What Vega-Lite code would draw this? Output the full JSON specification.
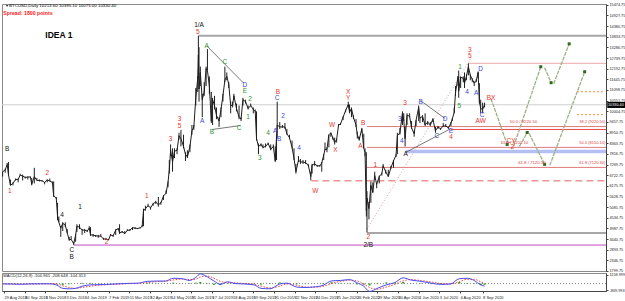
{
  "$schema": "https://vega.github.io/schema/vega-lite/v6.json",
  "background": "white",
  "padding": {"left": 0, "top": 2, "right": 0, "bottom": 0},
  "spacing": 2,
  "bounds": "flush",
  "config": {
    "view": {"stroke": "#8a8a8a", "strokeWidth": 1},
    "font": "Liberation Sans",
    "axis": {"labelFont": "Liberation Sans", "labelFontSize": 3.8, "labelColor": "#222", "tickColor": "#444", "domainColor": "#444", "grid": false, "tickSize": 2, "title": null, "labelPadding": 1}
  },
  "datasets": {
    "px": [
      {"d":"2018-08-27","h":6900,"l":6650,"c":6890},{"d":"2018-08-31","h":7050,"l":6850,"c":7000},{"d":"2018-09-03","h":7350,"l":7200,"c":7270},{"d":"2018-09-05","h":7400,"l":6700,"c":6750},{"d":"2018-09-08","h":6500,"l":6200,"c":6200},{"d":"2018-09-12","h":6350,"l":6200,"c":6300},{"d":"2018-09-16","h":6550,"l":6450,"c":6500},{"d":"2018-09-20","h":6550,"l":6350,"c":6500},{"d":"2018-09-23","h":6800,"l":6700,"c":6720},{"d":"2018-09-27","h":6750,"l":6450,"c":6680},
      {"d":"2018-10-01","h":6650,"l":6550,"c":6600},{"d":"2018-10-05","h":6650,"l":6500,"c":6630},{"d":"2018-10-09","h":6650,"l":6570,"c":6630},{"d":"2018-10-11","h":6580,"l":6200,"c":6250},{"d":"2018-10-15","h":7100,"l":6300,"c":6650},{"d":"2018-10-19","h":6580,"l":6450,"c":6450},{"d":"2018-10-23","h":6500,"l":6400,"c":6450},{"d":"2018-10-27","h":6470,"l":6400,"c":6430},{"d":"2018-10-31","h":6370,"l":6250,"c":6350},
      {"d":"2018-11-04","h":6500,"l":6350,"c":6480},{"d":"2018-11-08","h":6550,"l":6400,"c":6420},{"d":"2018-11-12","h":6400,"l":6300,"c":6350},{"d":"2018-11-14","h":6400,"l":5600,"c":5650},{"d":"2018-11-18","h":5600,"l":5500,"c":5550},{"d":"2018-11-20","h":5300,"l":4400,"c":4600},{"d":"2018-11-22","h":4600,"l":4300,"c":4300},{"d":"2018-11-25","h":4100,"l":3550,"c":4000},{"d":"2018-11-28","h":4300,"l":3850,"c":4250},
      {"d":"2018-12-02","h":4300,"l":4050,"c":4150},{"d":"2018-12-05","h":3950,"l":3750,"c":3750},{"d":"2018-12-08","h":3550,"l":3350,"c":3400},{"d":"2018-12-11","h":3600,"l":3400,"c":3420},{"d":"2018-12-15","h":3300,"l":3130,"c":3200},{"d":"2018-12-18","h":3700,"l":3300,"c":3650},{"d":"2018-12-20","h":4200,"l":3800,"c":4100},{"d":"2018-12-24","h":4200,"l":3950,"c":4050},{"d":"2018-12-28","h":3950,"l":3650,"c":3900},
      {"d":"2019-01-01","h":3950,"l":3750,"c":3900},{"d":"2019-01-05","h":3900,"l":3800,"c":3850},{"d":"2019-01-08","h":4100,"l":3950,"c":4000},{"d":"2019-01-10","h":4050,"l":3600,"c":3650},{"d":"2019-01-14","h":3700,"l":3550,"c":3650},{"d":"2019-01-18","h":3650,"l":3550,"c":3600},{"d":"2019-01-22","h":3650,"l":3500,"c":3600},{"d":"2019-01-26","h":3700,"l":3550,"c":3580},{"d":"2019-01-30","h":3500,"l":3400,"c":3450},
      {"d":"2019-02-03","h":3500,"l":3400,"c":3430},{"d":"2019-02-07","h":3450,"l":3380,"c":3400},{"d":"2019-02-10","h":3700,"l":3600,"c":3650},{"d":"2019-02-14","h":3650,"l":3550,"c":3600},{"d":"2019-02-18","h":3950,"l":3650,"c":3900},{"d":"2019-02-22","h":4000,"l":3900,"c":3980},{"d":"2019-02-24","h":4200,"l":3700,"c":3750},{"d":"2019-02-28","h":3850,"l":3750,"c":3820},
      {"d":"2019-03-04","h":3850,"l":3700,"c":3720},{"d":"2019-03-08","h":3950,"l":3850,"c":3880},{"d":"2019-03-12","h":3950,"l":3850,"c":3900},{"d":"2019-03-16","h":4050,"l":3900,"c":4020},{"d":"2019-03-20","h":4050,"l":3950,"c":4000},{"d":"2019-03-24","h":4000,"l":3950,"c":3980},{"d":"2019-03-28","h":4050,"l":3980,"c":4020},{"d":"2019-03-31","h":4150,"l":4050,"c":4100},
      {"d":"2019-04-02","h":5000,"l":4100,"c":4880},{"d":"2019-04-05","h":5150,"l":4900,"c":5000},{"d":"2019-04-09","h":5250,"l":5100,"c":5150},{"d":"2019-04-13","h":5100,"l":4950,"c":5050},{"d":"2019-04-17","h":5300,"l":5150,"c":5250},{"d":"2019-04-21","h":5400,"l":5250,"c":5350},{"d":"2019-04-25","h":5600,"l":5100,"c":5200},{"d":"2019-04-29","h":5350,"l":5200,"c":5300},
      {"d":"2019-05-03","h":5700,"l":5450,"c":5650},{"d":"2019-05-07","h":5950,"l":5750,"c":5800},{"d":"2019-05-10","h":6400,"l":6100,"c":6350},{"d":"2019-05-12","h":7500,"l":6800,"c":7000},{"d":"2019-05-14","h":8300,"l":7700,"c":8000},{"d":"2019-05-17","h":8100,"l":6900,"c":7400},{"d":"2019-05-20","h":8100,"l":7600,"c":7950},{"d":"2019-05-24","h":8100,"l":7800,"c":8000},{"d":"2019-05-27","h":8900,"l":8550,"c":8750},{"d":"2019-05-30","h":9050,"l":8200,"c":8600},
      {"d":"2019-06-03","h":8800,"l":8100,"c":8200},{"d":"2019-06-06","h":7900,"l":7450,"c":7800},{"d":"2019-06-09","h":8000,"l":7600,"c":7650},{"d":"2019-06-13","h":8300,"l":7900,"c":8200},{"d":"2019-06-16","h":9300,"l":8800,"c":9000},{"d":"2019-06-19","h":9300,"l":9050,"c":9200},{"d":"2019-06-22","h":11200,"l":10300,"c":10700},{"d":"2019-06-25","h":11800,"l":11000,"c":11700},{"d":"2019-06-26","h":13880,"l":11700,"c":12900},{"d":"2019-06-27","h":13300,"l":10500,"c":11150},{"d":"2019-06-29","h":12300,"l":11300,"c":12000},
      {"d":"2019-07-02","h":10900,"l":9700,"c":10600},{"d":"2019-07-05","h":11500,"l":10800,"c":11000},{"d":"2019-07-08","h":12300,"l":11300,"c":12200},{"d":"2019-07-10","h":13200,"l":12100,"c":12100},{"d":"2019-07-13","h":11800,"l":10900,"c":11300},{"d":"2019-07-16","h":11000,"l":9400,"c":9500},{"d":"2019-07-18","h":10700,"l":9300,"c":10600},{"d":"2019-07-21","h":10800,"l":10100,"c":10300},{"d":"2019-07-24","h":10200,"l":9600,"c":9800},{"d":"2019-07-28","h":9700,"l":9200,"c":9500},{"d":"2019-07-31","h":10200,"l":9700,"c":10100},
      {"d":"2019-08-03","h":10900,"l":10500,"c":10800},{"d":"2019-08-06","h":12300,"l":11500,"c":11600},{"d":"2019-08-09","h":12000,"l":11600,"c":11800},{"d":"2019-08-12","h":11500,"l":11200,"c":11400},{"d":"2019-08-15","h":10500,"l":9900,"c":10300},{"d":"2019-08-18","h":10500,"l":10200,"c":10300},{"d":"2019-08-20","h":10900,"l":10700,"c":10800},{"d":"2019-08-24","h":10400,"l":10000,"c":10150},{"d":"2019-08-28","h":10300,"l":9600,"c":9700},{"d":"2019-08-31","h":9700,"l":9500,"c":9600},
      {"d":"2019-09-03","h":10700,"l":10300,"c":10600},{"d":"2019-09-07","h":10600,"l":10400,"c":10500},{"d":"2019-09-11","h":10300,"l":10100,"c":10150},{"d":"2019-09-15","h":10400,"l":10250,"c":10300},{"d":"2019-09-19","h":10200,"l":9900,"c":10100},{"d":"2019-09-22","h":10100,"l":9950,"c":10000},{"d":"2019-09-24","h":10000,"l":8500,"c":8600},{"d":"2019-09-27","h":8350,"l":7800,"c":8200},
      {"d":"2019-10-01","h":8350,"l":8200,"c":8300},{"d":"2019-10-04","h":8300,"l":8100,"c":8150},{"d":"2019-10-08","h":8350,"l":8150,"c":8200},{"d":"2019-10-12","h":8400,"l":8300,"c":8350},{"d":"2019-10-16","h":8300,"l":8000,"c":8050},{"d":"2019-10-20","h":8300,"l":8150,"c":8200},{"d":"2019-10-23","h":8200,"l":7400,"c":7450},{"d":"2019-10-25","h":8800,"l":7500,"c":8700},{"d":"2019-10-26","h":10500,"l":8600,"c":9300},{"d":"2019-10-30","h":9450,"l":9100,"c":9200},
      {"d":"2019-11-03","h":9300,"l":9150,"c":9200},{"d":"2019-11-07","h":9400,"l":9100,"c":9200},{"d":"2019-11-10","h":9100,"l":8800,"c":8850},{"d":"2019-11-14","h":8800,"l":8600,"c":8650},{"d":"2019-11-18","h":8500,"l":8100,"c":8150},{"d":"2019-11-21","h":8100,"l":7500,"c":7600},{"d":"2019-11-24","h":7300,"l":6800,"c":6900},{"d":"2019-11-28","h":7700,"l":7400,"c":7500},
      {"d":"2019-12-01","h":7550,"l":7300,"c":7400},{"d":"2019-12-05","h":7500,"l":7300,"c":7400},{"d":"2019-12-09","h":7500,"l":7300,"c":7350},{"d":"2019-12-13","h":7300,"l":7200,"c":7250},{"d":"2019-12-17","h":6900,"l":6450,"c":6650},{"d":"2019-12-19","h":7300,"l":6800,"c":7250},{"d":"2019-12-23","h":7450,"l":7200,"c":7300},{"d":"2019-12-27","h":7250,"l":7150,"c":7200},{"d":"2019-12-31","h":7250,"l":7150,"c":7200},
      {"d":"2020-01-03","h":7400,"l":6900,"c":7350},{"d":"2020-01-06","h":7800,"l":7500,"c":7750},{"d":"2020-01-08","h":8400,"l":8000,"c":8050},{"d":"2020-01-11","h":8150,"l":7900,"c":8050},{"d":"2020-01-14","h":8800,"l":8150,"c":8800},{"d":"2020-01-17","h":8900,"l":8700,"c":8900},{"d":"2020-01-20","h":8700,"l":8550,"c":8650},{"d":"2020-01-23","h":8650,"l":8300,"c":8400},{"d":"2020-01-26","h":8600,"l":8400,"c":8550},{"d":"2020-01-29","h":9350,"l":9250,"c":9300},
      {"d":"2020-02-01","h":9400,"l":9300,"c":9350},{"d":"2020-02-05","h":9750,"l":9550,"c":9700},{"d":"2020-02-09","h":10100,"l":9950,"c":10050},{"d":"2020-02-13","h":10500,"l":10200,"c":10350},{"d":"2020-02-15","h":10350,"l":9900,"c":9950},{"d":"2020-02-18","h":10200,"l":9700,"c":10150},{"d":"2020-02-21","h":9800,"l":9600,"c":9700},{"d":"2020-02-25","h":9600,"l":9200,"c":9300},{"d":"2020-02-27","h":8950,"l":8600,"c":8800},
      {"d":"2020-03-01","h":8700,"l":8500,"c":8550},{"d":"2020-03-05","h":9150,"l":8900,"c":9100},{"d":"2020-03-08","h":8850,"l":8100,"c":8100},{"d":"2020-03-10","h":8100,"l":7700,"c":7900},{"d":"2020-03-12","h":7900,"l":4600,"c":4900},{"d":"2020-03-13","h":5900,"l":3780,"c":5550},{"d":"2020-03-16","h":5350,"l":4450,"c":5000},{"d":"2020-03-19","h":6400,"l":5300,"c":6200},{"d":"2020-03-22","h":6350,"l":5800,"c":5850},{"d":"2020-03-25","h":6900,"l":6500,"c":6700},{"d":"2020-03-28","h":6300,"l":6050,"c":6250},
      {"d":"2020-04-01","h":6700,"l":6300,"c":6650},{"d":"2020-04-05","h":6850,"l":6700,"c":6800},{"d":"2020-04-07","h":7300,"l":7100,"c":7200},{"d":"2020-04-11","h":7000,"l":6800,"c":6900},{"d":"2020-04-15","h":7000,"l":6650,"c":6650},{"d":"2020-04-19","h":7200,"l":7050,"c":7100},{"d":"2020-04-23","h":7500,"l":7100,"c":7450},{"d":"2020-04-27","h":7800,"l":7650,"c":7750},{"d":"2020-04-29","h":8900,"l":7800,"c":8750},
      {"d":"2020-05-03","h":9150,"l":8800,"c":8900},{"d":"2020-05-07","h":10000,"l":9300,"c":9950},{"d":"2020-05-09","h":9900,"l":9500,"c":9550},{"d":"2020-05-11","h":9200,"l":8200,"c":8600},{"d":"2020-05-14","h":9900,"l":9300,"c":9800},{"d":"2020-05-18","h":9900,"l":9700,"c":9750},{"d":"2020-05-21","h":9500,"l":9100,"c":9150},{"d":"2020-05-25","h":9000,"l":8700,"c":8850},{"d":"2020-05-28","h":9550,"l":9250,"c":9550},
      {"d":"2020-06-01","h":10300,"l":9500,"c":10200},{"d":"2020-06-03","h":9700,"l":9400,"c":9650},{"d":"2020-06-07","h":9800,"l":9450,"c":9750},{"d":"2020-06-11","h":9900,"l":9250,"c":9300},{"d":"2020-06-15","h":9500,"l":9300,"c":9450},{"d":"2020-06-19","h":9450,"l":9250,"c":9300},{"d":"2020-06-23","h":9650,"l":9450,"c":9600},{"d":"2020-06-27","h":9200,"l":8900,"c":9000},
      {"d":"2020-07-01","h":9250,"l":9100,"c":9200},{"d":"2020-07-05","h":9150,"l":9050,"c":9100},{"d":"2020-07-09","h":9400,"l":9200,"c":9250},{"d":"2020-07-13","h":9350,"l":9200,"c":9250},{"d":"2020-07-17","h":9200,"l":9100,"c":9150},{"d":"2020-07-21","h":9450,"l":9250,"c":9400},{"d":"2020-07-23","h":9650,"l":9500,"c":9600},{"d":"2020-07-26","h":10200,"l":9900,"c":9950},{"d":"2020-07-28","h":11300,"l":10800,"c":10950},
      {"d":"2020-08-01","h":11800,"l":11300,"c":11800},{"d":"2020-08-02","h":12100,"l":10700,"c":11050},{"d":"2020-08-05","h":11800,"l":11200,"c":11750},{"d":"2020-08-09","h":11800,"l":11500,"c":11700},{"d":"2020-08-11","h":12000,"l":11200,"c":11450},{"d":"2020-08-14","h":11900,"l":11600,"c":11800},{"d":"2020-08-17","h":12470,"l":11850,"c":12300},{"d":"2020-08-20","h":11900,"l":11600,"c":11850},{"d":"2020-08-23","h":11700,"l":11500,"c":11650},{"d":"2020-08-26","h":11550,"l":11300,"c":11450},{"d":"2020-08-29","h":11650,"l":11500,"c":11550},
      {"d":"2020-09-01","h":12050,"l":11700,"c":12000},{"d":"2020-09-03","h":11450,"l":10400,"c":10500},{"d":"2020-09-05","h":10600,"l":9900,"c":10150},{"d":"2020-09-08","h":10450,"l":9900,"c":10100},{"d":"2020-09-11","h":10450,"l":10200,"c":10340}
    ],
    "hl": [
      {"d1":"2019-06-26","d2":"2021-03-18","p":13880,"k":"top"},
      {"d1":"2018-08-26","d2":"2021-03-18","p":10340,"k":"bid"},
      {"d1":"2020-08-17","d2":"2021-03-18","p":12470,"k":"pink"},
      {"d1":"2020-03-13","d2":"2021-03-18","p":9220,"k":"fib"},
      {"d1":"2020-07-21","d2":"2021-03-18","p":9070,"k":"fibb"},
      {"d1":"2020-03-13","d2":"2021-03-18","p":8150,"k":"fib"},
      {"d1":"2020-05-12","d2":"2021-03-18","p":7940,"k":"blue"},
      {"d1":"2020-03-13","d2":"2021-03-18","p":7120,"k":"fib"},
      {"d1":"2019-12-18","d2":"2021-03-18","p":6430,"k":"dash"},
      {"d1":"2020-03-13","d2":"2021-03-18","p":3750,"k":"low"},
      {"d1":"2018-12-15","d2":"2021-03-18","p":3130,"k":"mag"},
      {"d1":"2021-02-01","d2":"2021-03-16","p":11010,"k":"org"},
      {"d1":"2021-02-01","d2":"2021-03-16","p":9830,"k":"org"}
    ],
    "seg": [
      {"d1":"2020-03-13","p1":3950,"d2":"2020-08-22","p2":12800,"k":"dot"},
      {"d1":"2019-07-09","p1":13368,"d2":"2019-09-04","p2":11452,"k":"tri"},
      {"d1":"2019-07-17","p1":9067,"d2":"2019-08-30","p2":9272,"k":"tri"},
      {"d1":"2020-06-04","p1":10552,"d2":"2020-07-12","p2":9630,"k":"tri"},
      {"d1":"2020-05-12","p1":7890,"d2":"2020-07-21","p2":9118,"k":"tri"}
    ],
    "proj": [
      {"d1":"2020-09-21","p1":10654,"d2":"2020-10-16","p2":8299},
      {"d1":"2020-10-26","p1":8197,"d2":"2020-12-07","p2":12293},
      {"d1":"2020-12-13","p1":12242,"d2":"2020-12-23","p2":11474},
      {"d1":"2020-12-27","p1":11422,"d2":"2021-01-20","p2":13470},
      {"d1":"2020-11-04","p1":8197,"d2":"2020-11-16","p2":8914},
      {"d1":"2020-11-19","p1":8862,"d2":"2020-12-13","p2":7275},
      {"d1":"2020-12-21","p1":7224,"d2":"2021-02-13","p2":12037}
    ],
    "lab": [
      {"d":"2019-06-27","p":14443,"t":"1/A","k":"k"},
      {"d":"2019-06-25","p":14085,"t":"5","k":"r"},
      {"d":"2018-09-03","p":8043,"t":"B","k":"k"},
      {"d":"2018-09-07","p":5893,"t":"1","k":"r"},
      {"d":"2018-11-04","p":6814,"t":"2","k":"r"},
      {"d":"2018-11-27","p":4664,"t":"4","k":"k"},
      {"d":"2018-12-12","p":2872,"t":"C","k":"k"},
      {"d":"2018-12-12","p":2514,"t":"B","k":"k"},
      {"d":"2018-12-25","p":5074,"t":"1","k":"k"},
      {"d":"2019-02-04","p":3282,"t":"2","k":"r"},
      {"d":"2019-04-07","p":5637,"t":"1","k":"r"},
      {"d":"2019-05-14","p":8606,"t":"3","k":"r"},
      {"d":"2019-05-28","p":9630,"t":"3","k":"r"},
      {"d":"2019-05-28","p":9270,"t":"5","k":"r"},
      {"d":"2019-07-02","p":9528,"t":"A","k":"b"},
      {"d":"2019-07-09","p":13368,"t":"A","k":"g"},
      {"d":"2019-07-17","p":8965,"t":"B","k":"g"},
      {"d":"2019-08-06","p":12549,"t":"C","k":"g"},
      {"d":"2019-08-28","p":9170,"t":"C","k":"g"},
      {"d":"2019-09-06","p":11371,"t":"D","k":"b"},
      {"d":"2019-09-06","p":11064,"t":"E","k":"g"},
      {"d":"2019-09-14","p":10654,"t":"2","k":"g"},
      {"d":"2019-09-11","p":9733,"t":"1","k":"g"},
      {"d":"2019-09-29","p":7582,"t":"3","k":"g"},
      {"d":"2019-10-12","p":8914,"t":"4","k":"g"},
      {"d":"2019-10-27","p":10990,"t":"B","k":"r"},
      {"d":"2019-10-26","p":10680,"t":"C","k":"b"},
      {"d":"2019-10-23","p":9016,"t":"A","k":"b"},
      {"d":"2019-10-29","p":8560,"t":"B","k":"b"},
      {"d":"2019-11-04","p":9784,"t":"2","k":"b"},
      {"d":"2019-11-29","p":8094,"t":"4","k":"b"},
      {"d":"2019-12-24","p":5893,"t":"W","k":"r"},
      {"d":"2020-01-19","p":9323,"t":"W","k":"r"},
      {"d":"2020-01-24","p":7992,"t":"X","k":"r"},
      {"d":"2020-02-13","p":11000,"t":"X","k":"r"},
      {"d":"2020-02-13","p":10680,"t":"Y","k":"r"},
      {"d":"2020-03-07","p":9426,"t":"B","k":"r"},
      {"d":"2020-03-03","p":8197,"t":"A","k":"r"},
      {"d":"2020-03-15","p":3538,"t":"2","k":"r"},
      {"d":"2020-03-15","p":3128,"t":"2/B","k":"k"},
      {"d":"2020-03-26","p":7224,"t":"1","k":"r"},
      {"d":"2020-05-03","p":9630,"t":"3","k":"b"},
      {"d":"2020-05-11","p":10450,"t":"3","k":"r"},
      {"d":"2020-05-06","p":8453,"t":"4","k":"b"},
      {"d":"2020-05-12","p":7787,"t":"A","k":"k"},
      {"d":"2020-06-04","p":10501,"t":"B","k":"b"},
      {"d":"2020-06-29","p":8709,"t":"C","k":"b"},
      {"d":"2020-07-12","p":9630,"t":"D","k":"b"},
      {"d":"2020-07-21","p":9016,"t":"E","k":"b"},
      {"d":"2020-07-21","p":8658,"t":"4","k":"r"},
      {"d":"2020-08-04","p":12293,"t":"1","k":"g"},
      {"d":"2020-08-19","p":13163,"t":"3","k":"r"},
      {"d":"2020-08-19","p":12856,"t":"5","k":"r"},
      {"d":"2020-08-15","p":11013,"t":"4","k":"b"},
      {"d":"2020-08-03","p":10296,"t":"5","k":"g"},
      {"d":"2020-08-29","p":10962,"t":"A","k":"b"},
      {"d":"2020-09-05","p":12190,"t":"D","k":"b"},
      {"d":"2020-09-07","p":9800,"t":"C","k":"b"},
      {"d":"2020-09-05","p":9500,"t":"AW","k":"r"},
      {"d":"2020-09-21","p":10706,"t":"BX","k":"r"},
      {"d":"2020-10-22","p":8500,"t":"CY","k":"r"},
      {"d":"2020-10-24","p":8150,"t":"2","k":"r"}
    ],
    "fibt": [
      {"d":"2020-10-20","p":9330,"t":"50.0 / 9220.50","a":"m"},
      {"d":"2020-10-06","p":8260,"t":"61.8 / 8150.10","a":"m"},
      {"d":"2020-11-02","p":7230,"t":"61.8 / 7120.30","a":"m"},
      {"d":"2021-03-17","p":9330,"t":"38.2 (9220.50)","a":"e"},
      {"d":"2021-03-17","p":8260,"t":"50.0 (8150.10)","a":"e"},
      {"d":"2021-03-17","p":7230,"t":"61.8 (7120.30)","a":"e"}
    ],
    "osc": [
      {"d":"2018-08-27","m":-40,"s":-30,"h":-5},{"d":"2018-09-10","m":-60,"s":-45,"h":-8},{"d":"2018-09-25","m":-80,"s":-65,"h":-8},{"d":"2018-10-10","m":-40,"s":-60,"h":10},{"d":"2018-10-25","m":-30,"s":-40,"h":5},{"d":"2018-11-08","m":-30,"s":-30,"h":0},{"d":"2018-11-18","m":-150,"s":-60,"h":-45},{"d":"2018-11-28","m":-550,"s":-250,"h":-150},{"d":"2018-12-08","m":-600,"s":-450,"h":-80},{"d":"2018-12-18","m":-550,"s":-550,"h":0},{"d":"2018-12-28","m":-300,"s":-450,"h":75},
      {"d":"2019-01-10","m":-150,"s":-300,"h":75},{"d":"2019-01-25","m":-120,"s":-180,"h":30},{"d":"2019-02-10","m":-80,"s":-110,"h":15},{"d":"2019-02-25","m":-20,"s":-60,"h":20},{"d":"2019-03-10","m":20,"s":-10,"h":15},{"d":"2019-03-25","m":40,"s":20,"h":10},{"d":"2019-04-08","m":250,"s":100,"h":75},{"d":"2019-04-22","m":280,"s":220,"h":30},{"d":"2019-05-06","m":280,"s":270,"h":5},{"d":"2019-05-18","m":600,"s":400,"h":100},{"d":"2019-06-01","m":550,"s":520,"h":15},{"d":"2019-06-12","m":350,"s":450,"h":-50},{"d":"2019-06-22","m":700,"s":500,"h":100},{"d":"2019-06-29","m":1100,"s":750,"h":175},
      {"d":"2019-07-10","m":750,"s":850,"h":-50},{"d":"2019-07-20","m":300,"s":600,"h":-150},{"d":"2019-07-30","m":-100,"s":250,"h":-175},{"d":"2019-08-10","m":200,"s":100,"h":50},{"d":"2019-08-22","m":0,"s":80,"h":-40},{"d":"2019-09-05","m":-50,"s":0,"h":-25},{"d":"2019-09-20","m":-150,"s":-80,"h":-35},{"d":"2019-10-01","m":-550,"s":-300,"h":-125},{"d":"2019-10-15","m":-600,"s":-500,"h":-50},{"d":"2019-10-30","m":-50,"s":-300,"h":125},{"d":"2019-11-10","m":50,"s":-50,"h":50},{"d":"2019-11-25","m":-400,"s":-200,"h":-100},{"d":"2019-12-08","m":-450,"s":-400,"h":-25},{"d":"2019-12-20","m":-400,"s":-420,"h":10},
      {"d":"2020-01-05","m":-200,"s":-320,"h":60},{"d":"2020-01-18","m":300,"s":0,"h":150},{"d":"2020-02-01","m":350,"s":250,"h":50},{"d":"2020-02-15","m":450,"s":380,"h":35},{"d":"2020-02-26","m":100,"s":300,"h":-100},{"d":"2020-03-08","m":-300,"s":-50,"h":-125},{"d":"2020-03-17","m":-900,"s":-450,"h":-225},{"d":"2020-03-29","m":-550,"s":-650,"h":50},{"d":"2020-04-12","m":-150,"s":-400,"h":125},{"d":"2020-04-25","m":100,"s":-100,"h":100},{"d":"2020-05-08","m":650,"s":300,"h":175},{"d":"2020-05-20","m":400,"s":450,"h":-25},{"d":"2020-06-05","m":250,"s":330,"h":-40},{"d":"2020-06-20","m":50,"s":180,"h":-65},{"d":"2020-07-05","m":-100,"s":0,"h":-50},{"d":"2020-07-20","m":-50,"s":-60,"h":5},{"d":"2020-08-03","m":550,"s":200,"h":175},{"d":"2020-08-15","m":600,"s":480,"h":60},{"d":"2020-08-26","m":350,"s":480,"h":-65},{"d":"2020-09-05","m":-150,"s":200,"h":-175},{"d":"2020-09-11","m":-300,"s":0,"h":-150}
    ]
  },
  "vconcat": [
    {
      "width": 604,
      "height": 267,
      "resolve": {"scale": {"color": "independent"}},
      "encoding": {
        "x": {"field": "d", "type": "temporal", "scale": {"type": "utc", "domain": [{"year":2018,"month":8,"date":26,"utc":true},{"year":2021,"month":3,"date":18,"utc":true}]}, "axis": null},
        "y": {"field": "p", "type": "quantitative", "scale": {"domain": [1797, 15518], "nice": false, "zero": false},
              "axis": {"orient": "right", "values": [1799.75,2346.75,2893.75,3440.75,3987.75,4534.75,5081.75,5628.75,6175.75,6722.75,7269.75,7816.75,8363.75,8910.75,9457.75,10004.75,10551.75,11098.75,11645.75,12192.75,12739.75,13286.75,13833.75,14380.75,14927.75,15474.75], "format": ".2f", "labelFlush": false, "labelOverlap": false}}
      },
      "layer": [
        {"data": {"name": "hl"}, "transform": [{"filter": "indexof(['bid','pink','fib','fibb','mag'], datum.k) >= 0"}],
         "mark": {"type": "rule", "strokeWidth": 1},
         "encoding": {"x": {"field": "d1", "type": "temporal"}, "x2": {"field": "d2"}, "y": {"field": "p", "type": "quantitative"},
                      "color": {"field": "k", "type": "nominal", "legend": null, "scale": {"domain": ["bid","pink","fib","fibb","mag"], "range": ["#cfcfcf","#eaa8a8","#e07a7a","#e84848","#c04cc0"]}}}},
        {"data": {"name": "hl"}, "transform": [{"filter": "datum.k == 'top' || datum.k == 'low'"}],
         "mark": {"type": "rule", "strokeWidth": 2, "color": "#a6a6a6"},
         "encoding": {"x": {"field": "d1", "type": "temporal"}, "x2": {"field": "d2"}, "y": {"field": "p", "type": "quantitative"}}},
        {"data": {"name": "hl"}, "transform": [{"filter": "datum.k == 'blue'"}],
         "mark": {"type": "rule", "strokeWidth": 3.5, "color": "#b4c0f4"},
         "encoding": {"x": {"field": "d1", "type": "temporal"}, "x2": {"field": "d2"}, "y": {"field": "p", "type": "quantitative"}}},
        {"data": {"name": "hl"}, "transform": [{"filter": "datum.k == 'dash'"}],
         "mark": {"type": "rule", "strokeWidth": 1, "color": "#e06060", "strokeDash": [7, 4]},
         "encoding": {"x": {"field": "d1", "type": "temporal"}, "x2": {"field": "d2"}, "y": {"field": "p", "type": "quantitative"}}},
        {"data": {"name": "hl"}, "transform": [{"filter": "datum.k == 'org'"}],
         "mark": {"type": "rule", "strokeWidth": 1, "color": "#f08a40", "strokeDash": [2, 2]},
         "encoding": {"x": {"field": "d1", "type": "temporal"}, "x2": {"field": "d2"}, "y": {"field": "p", "type": "quantitative"}}},
        {"data": {"name": "seg"}, "transform": [{"filter": "datum.k == 'dot'"}],
         "mark": {"type": "rule", "strokeWidth": 1, "color": "#e09a9a", "strokeDash": [1, 2]},
         "encoding": {"x": {"field": "d1", "type": "temporal"}, "x2": {"field": "d2"}, "y": {"field": "p1", "type": "quantitative"}, "y2": {"field": "p2"}}},
        {"data": {"name": "seg"}, "transform": [{"filter": "datum.k == 'tri'"}],
         "mark": {"type": "rule", "strokeWidth": 0.8, "color": "#555555"},
         "encoding": {"x": {"field": "d1", "type": "temporal"}, "x2": {"field": "d2"}, "y": {"field": "p1", "type": "quantitative"}, "y2": {"field": "p2"}}},
        {"data": {"name": "px"}, "mark": {"type": "rule", "strokeWidth": 1, "color": "#1e1e1e"},
         "encoding": {"y": {"field": "l", "type": "quantitative"}, "y2": {"field": "h"}}},
        {"data": {"name": "px"}, "mark": {"type": "line", "strokeWidth": 1, "color": "#1e1e1e"},
         "encoding": {"y": {"field": "c", "type": "quantitative"}}},
        {"data": {"name": "proj"}, "mark": {"type": "rule", "strokeWidth": 1.3, "color": "#9db184", "strokeDash": [4, 1]},
         "encoding": {"x": {"field": "d1", "type": "temporal"}, "x2": {"field": "d2"}, "y": {"field": "p1", "type": "quantitative"}, "y2": {"field": "p2"}}},
        {"data": {"name": "proj"}, "mark": {"type": "point", "shape": "square", "size": 9, "filled": true, "color": "#2f6a1f", "opacity": 1},
         "encoding": {"x": {"field": "d2", "type": "temporal"}, "y": {"field": "p2", "type": "quantitative"}}},
        {"data": {"name": "lab"}, "mark": {"type": "text", "fontSize": 6.5, "font": "Liberation Sans", "baseline": "middle", "align": "center"},
         "encoding": {"text": {"field": "t"}, "color": {"field": "k", "type": "nominal", "legend": null, "scale": {"domain": ["k","r","b","g"], "range": ["#111111","#e8342c","#3446e0","#2a962a"]}}}},
        {"data": {"name": "fibt"}, "transform": [{"filter": "datum.a == 'm'"}], "mark": {"type": "text", "fontSize": 4.3, "color": "#d84040", "align": "left", "baseline": "bottom"},
         "encoding": {"text": {"field": "t"}}},
        {"data": {"name": "fibt"}, "transform": [{"filter": "datum.a == 'e'"}], "mark": {"type": "text", "fontSize": 4, "color": "#d84040", "align": "right", "baseline": "bottom"},
         "encoding": {"text": {"field": "t"}}},
        {"data": {"values": [{"d":"2018-11-22","p":13905,"t":"IDEA 1"}]}, "mark": {"type": "text", "fontSize": 8.5, "fontWeight": "bold", "color": "#000", "align": "center", "baseline": "middle"},
         "encoding": {"text": {"field": "t"}}},
        {"data": {"values": [{"d":"2018-09-01","p":15400,"t":"\u25be BTCUSD,Daily  10213.60 10395.10 10075.00 10330.40"}]}, "mark": {"type": "text", "fontSize": 4.4, "color": "#000", "align": "left", "baseline": "middle"},
         "encoding": {"text": {"field": "t"}}},
        {"data": {"values": [{"d":"2018-08-28","p":15060,"t":"Spread: 1800 points"}]}, "mark": {"type": "text", "fontSize": 5.2, "fontWeight": "bold", "color": "#ff2020", "align": "left", "baseline": "middle"},
         "encoding": {"text": {"field": "t"}}},
        {"data": {"values": [{"d":"2021-03-20","e":"2021-04-28","p":10330}]}, "mark": {"type": "rule", "strokeWidth": 6, "color": "#000", "clip": false},
         "encoding": {"x": {"field": "d", "type": "temporal"}, "x2": {"field": "e"}}},
        {"data": {"values": [{"d":"2021-03-21","p":10330,"t":"10330.40"}]}, "mark": {"type": "text", "fontSize": 3.8, "color": "#fff", "align": "left", "baseline": "middle", "clip": false},
         "encoding": {"text": {"field": "t"}}}
      ]
    },
    {
      "width": 604,
      "height": 18,
      "encoding": {
        "x": {"field": "d", "type": "temporal", "scale": {"type": "utc", "domain": [{"year":2018,"month":8,"date":26,"utc":true},{"year":2021,"month":3,"date":18,"utc":true}]},
              "axis": {"orient": "bottom", "values": [
                {"year":2018,"month":8,"date":29,"utc":true},{"year":2018,"month":9,"date":30,"utc":true},{"year":2018,"month":11,"date":1,"utc":true},{"year":2018,"month":12,"date":3,"utc":true},
                {"year":2019,"month":1,"date":4,"utc":true},{"year":2019,"month":2,"date":7,"utc":true},{"year":2019,"month":3,"date":11,"utc":true},{"year":2019,"month":4,"date":12,"utc":true},
                {"year":2019,"month":5,"date":14,"utc":true},{"year":2019,"month":6,"date":15,"utc":true},{"year":2019,"month":7,"date":17,"utc":true},{"year":2019,"month":8,"date":18,"utc":true},
                {"year":2019,"month":9,"date":19,"utc":true},{"year":2019,"month":10,"date":21,"utc":true},{"year":2019,"month":11,"date":22,"utc":true},{"year":2019,"month":12,"date":24,"utc":true},
                {"year":2020,"month":1,"date":25,"utc":true},{"year":2020,"month":2,"date":26,"utc":true},{"year":2020,"month":3,"date":29,"utc":true},{"year":2020,"month":4,"date":30,"utc":true},
                {"year":2020,"month":6,"date":1,"utc":true},{"year":2020,"month":7,"date":3,"utc":true},{"year":2020,"month":8,"date":4,"utc":true},{"year":2020,"month":9,"date":8,"utc":true}],
                "labelExpr": "utcFormat(datum.value, '%-d %b %Y')", "labelAlign": "left", "labelFontSize": 4, "labelPadding": 2, "labelOverlap": false, "labelFlush": false}}
      },
      "layer": [
        {"data": {"values": [{"z": 0}]}, "mark": {"type": "rule", "color": "#888", "strokeDash": [1, 2], "strokeWidth": 1},
         "encoding": {"x": null, "y": {"datum": 0, "type": "quantitative", "scale": {"domain": [-850, 1200], "nice": false, "zero": false},
           "axis": {"orient": "right", "values": [1000, 0, -750], "labelExpr": "datum.value == 1000 ? '1158.999' : datum.value == 0 ? '0.00' : '-809.993'", "labelFontSize": 3.8}}}},
        {"data": {"name": "osc"}, "mark": {"type": "rule", "color": "#1e9a1e", "strokeWidth": 2},
         "encoding": {"y": {"field": "h", "type": "quantitative"}, "y2": {"datum": 0}}},
        {"data": {"name": "osc"}, "mark": {"type": "line", "color": "#f04040", "strokeWidth": 1, "strokeDash": [1.5, 1.5], "interpolate": "monotone"},
         "encoding": {"y": {"field": "s", "type": "quantitative"}}},
        {"data": {"name": "osc"}, "mark": {"type": "line", "color": "#4a4af0", "strokeWidth": 1, "interpolate": "monotone"},
         "encoding": {"y": {"field": "m", "type": "quantitative"}}},
        {"data": {"values": [{"d":"2018-08-28","v":820,"t":"MACD(12,26,9) -104.961 -208.648 -104.313"}]}, "mark": {"type": "text", "fontSize": 4.2, "color": "#222", "align": "left", "baseline": "middle"},
         "encoding": {"y": {"field": "v", "type": "quantitative"}, "text": {"field": "t"}}}
      ]
    }
  ]
}
